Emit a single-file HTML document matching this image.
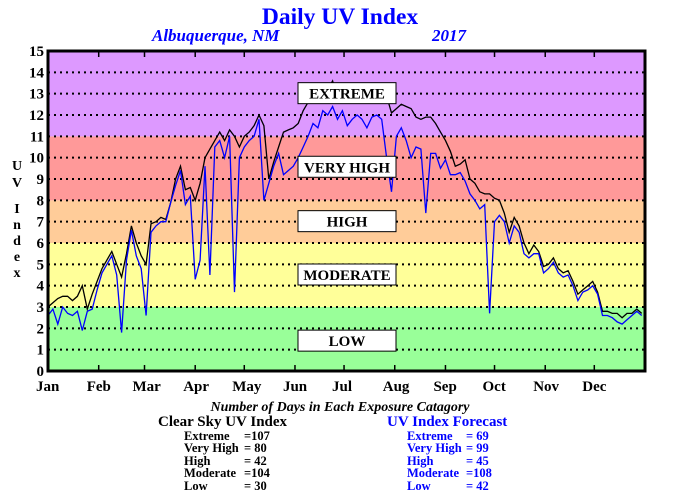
<!DOCTYPE html>
<html><head><meta charset="utf-8"><style>
body{margin:0;background:#fff}
svg{display:block;font-family:"Liberation Serif",serif;font-weight:bold}
</style></head><body>
<svg id="chart" width="680" height="500" viewBox="0 0 680 500">
<text x="340" y="24" text-anchor="middle" font-size="23.5" fill="#0000ff">Daily UV Index</text>
<text x="152" y="41" font-size="17" font-style="italic" fill="#0000ff">Albuquerque, NM</text>
<text x="432" y="41" font-size="17" font-style="italic" fill="#0000ff">2017</text>
<g id="bands"></g>
<g id="grid"></g>
<g id="series"></g>
<g id="boxes"></g>
<g id="axes"></g>
<text x="17" y="170" font-size="14" text-anchor="middle"><tspan x="17" dy="0">U</tspan><tspan x="17" dy="17">V</tspan><tspan x="17" dy="26">I</tspan><tspan x="17" dy="16">n</tspan><tspan x="17" dy="16">d</tspan><tspan x="17" dy="16">e</tspan><tspan x="17" dy="16">x</tspan></text>
<text x="340" y="411" text-anchor="middle" font-size="14" font-style="italic">Number of Days in Each Exposure Catagory</text>
<text x="158" y="426" font-size="15">Clear Sky UV Index</text>
<g font-size="12.5">
<text x="184" y="440">Extreme</text><text x="244" y="440">=107</text>
<text x="184" y="452">Very High</text><text x="244" y="452">=  80</text>
<text x="184" y="465">High</text><text x="244" y="465">=  42</text>
<text x="184" y="477">Moderate</text><text x="244" y="477">=104</text>
<text x="184" y="490">Low</text><text x="244" y="490">=  30</text>
</g>
<text x="387" y="426" font-size="15" fill="#0000ff">UV Index Forecast</text>
<g font-size="12.5" fill="#0000ff">
<text x="407" y="440">Extreme</text><text x="466" y="440">=  69</text>
<text x="407" y="452">Very High</text><text x="466" y="452">=  99</text>
<text x="407" y="465">High</text><text x="466" y="465">=  45</text>
<text x="407" y="477">Moderate</text><text x="466" y="477">=108</text>
<text x="407" y="490">Low</text><text x="466" y="490">=  42</text>
</g>
</svg>
<script>
const sampleDays = [];
for (let d = 0; d <= 363; d += 3) sampleDays.push(d);
const clearSky = [3.0,3.2,3.4,3.5,3.5,3.3,3.5,4.0,2.9,3.6,4.2,4.8,5.2,5.6,5.0,4.4,5.5,6.8,6.0,5.4,5.0,6.9,7.0,7.2,7.1,7.9,9.0,9.6,8.5,8.6,8.0,8.8,10.0,10.4,10.8,11.2,10.8,11.3,11.0,10.5,11.0,11.2,11.5,12.0,11.5,9.0,9.8,10.5,11.2,11.3,11.4,11.6,12.2,12.6,12.9,12.8,13.0,13.2,13.6,12.8,12.9,12.6,12.9,13.0,12.8,12.6,12.9,13.0,12.7,12.9,12.1,12.3,12.5,12.4,12.3,11.9,11.8,11.9,11.9,11.6,11.2,10.8,10.3,9.6,9.7,9.9,9.0,8.8,8.4,8.3,8.3,8.1,8.0,7.4,6.5,7.2,6.8,6.0,5.5,5.9,5.6,4.9,5.0,5.3,4.8,4.6,4.7,4.2,3.6,3.8,4.0,4.2,3.7,2.8,2.8,2.7,2.7,2.5,2.7,2.7,2.9,2.7];
const forecast = [2.6,2.9,2.2,3.0,2.7,2.6,2.8,1.9,2.8,2.9,3.8,4.6,5.0,5.4,4.5,1.8,5.2,6.6,5.4,4.8,2.6,6.5,6.8,7.0,7.0,7.9,8.7,9.4,7.8,8.2,4.3,5.2,9.6,4.5,10.5,10.8,10.0,11.0,3.7,10.0,10.5,10.8,11.0,11.8,8.0,8.8,9.6,10.2,9.2,9.4,9.6,10.0,10.5,11.0,11.6,11.4,12.2,12.0,12.4,11.8,12.2,11.5,11.8,12.0,11.8,11.4,11.9,12.0,11.8,10.0,8.4,11.0,11.4,10.8,10.0,10.5,10.4,7.4,10.2,10.2,9.5,9.9,9.2,9.2,9.3,8.9,8.3,8.0,7.6,7.8,2.7,7.0,7.3,7.0,6.0,6.8,6.5,5.5,5.3,5.5,5.5,4.6,4.8,5.1,4.6,4.4,4.5,4.0,3.3,3.7,3.8,4.0,3.6,2.6,2.6,2.5,2.3,2.2,2.4,2.6,2.8,2.6];
const monthLabels = ["Jan","Feb","Mar","Apr","May","Jun","Jul","Aug","Sep","Oct","Nov","Dec"];
const monthStarts = [0,31,59,90,120,151,181,212,243,273,304,334];
const yTicks = [0,1,2,3,4,5,6,7,8,9,10,11,12,13,14,15];
const bandNames = ["LOW","MODERATE","HIGH","VERY HIGH","EXTREME"];
const bandLows = [0,3,6,8,11];
const bandHighs = [3,6,8,11,15];
const bandLabelValues = [1.4,4.5,7.0,9.55,13.0];

const NS = "http://www.w3.org/2000/svg";
const X0 = 48, X1 = 645, Y0 = 371, Y1 = 51;
const x = d => X0 + d * (X1 - X0) / 365;
const y = v => Y0 - v * (Y0 - Y1) / 15;
function mk(tag, attrs, parent) {
  const e = document.createElementNS(NS, tag);
  for (const k in attrs) e.setAttribute(k, attrs[k]);
  parent.appendChild(e);
  return e;
}
const bandColors = ["#99ff99","#ffff99","#ffcc99","#ff9999","#dd99ff"];
const bands = document.getElementById("bands");
bandNames.forEach((n, i) => {
  const r = mk("rect", {x: X0, y: y(bandHighs[i]), width: X1 - X0, height: y(bandLows[i]) - y(bandHighs[i]), fill: bandColors[i]}, bands);
  
  
});
const grid = document.getElementById("grid");
yTicks.forEach(t => {
  if (t > 0 && t < 15) {
    const l = mk("line", {x1: X0, x2: X1, y1: y(t), y2: y(t), stroke: "#000", "stroke-width": 2, "stroke-dasharray": "2 4"}, grid);
    
    
  }
});
const series = document.getElementById("series");
function line(vals, color, name) {
  const pts = vals.map((v, i) => x(sampleDays[i]).toFixed(1) + "," + y(v).toFixed(1)).join(" ");
  const p = mk("polyline", {points: pts, fill: "none", stroke: color, "stroke-width": 1.3}, series);
  
  
}
line(clearSky, "#000", "clear-sky-line");
line(forecast, "#0000ff", "forecast-line");
const boxes = document.getElementById("boxes");
bandNames.forEach((n, i) => {
  const cy = y(bandLabelValues[i]);
  const g = mk("g", {}, boxes);
  
  
  mk("rect", {x: 298, y: cy - 11, width: 98, height: 21, fill: "#fff", stroke: "#000", "stroke-width": 1}, g);
  const t = mk("text", {x: 347, y: cy + 5, "text-anchor": "middle", "font-size": 15}, g);
  t.textContent = n;
});
const axes = document.getElementById("axes");
const frame = mk("rect", {x: X0, y: Y1, width: X1 - X0, height: Y0 - Y1, fill: "none", stroke: "#000", "stroke-width": 3}, axes);


yTicks.forEach(t => {
  const tx = mk("text", {x: 44, y: y(t) + 5, "text-anchor": "end", "font-size": 15}, axes);
  
  
  tx.textContent = t;
});
monthLabels.forEach((m, i) => {
  const xx = x(monthStarts[i]);
  if (i > 0) {
    mk("line", {x1: xx, x2: xx, y1: Y0, y2: Y0 - 6, stroke: "#000", "stroke-width": 1.5}, axes);
    mk("line", {x1: xx, x2: xx, y1: Y1, y2: Y1 + 6, stroke: "#000", "stroke-width": 1.5}, axes);
  }
  const tx = mk("text", {x: xx - 12, y: 391, "font-size": 15}, axes);
  
  
  tx.textContent = m;
});
</script>
</body></html>
